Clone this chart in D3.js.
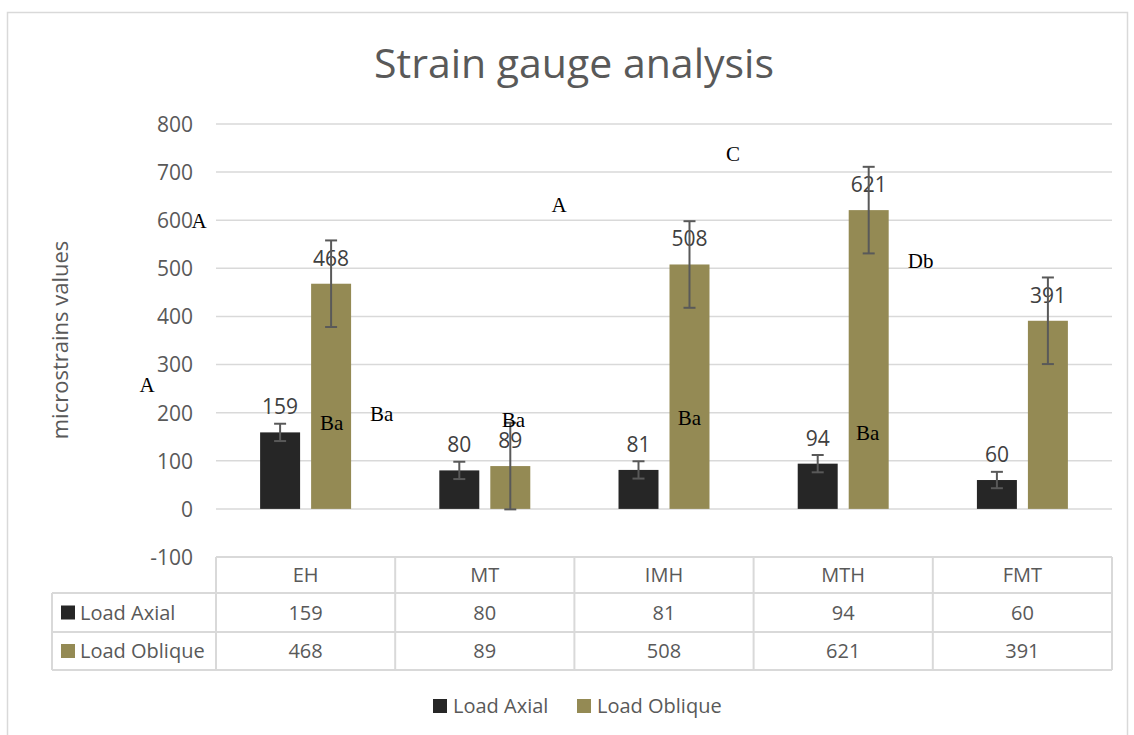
<!DOCTYPE html>
<html>
<head>
<meta charset="utf-8">
<script src="https://cdn.jsdelivr.net/npm/d3@7"></script>
<style>
    body { margin: 0; background: #fff; }
    svg text { font-family: 'Open Sans', 'DejaVu Sans', sans-serif; }
    svg text.letter { font-family: 'Liberation Serif', 'Times New Roman', serif; }
</style>
</head>
<body>
<svg id="chart" width="1134" height="735"></svg>
<script>
var categories = ['EH', 'MT', 'IMH', 'MTH', 'FMT'];
var seriesNames = ['Load Axial', 'Load Oblique'];
var loadAxial = [159, 80, 81, 94, 60];
var loadOblique = [468, 89, 508, 621, 391];
var axialErr = [18, 18, 18, 18, 17];
var obliqueErr = [90, 90, 90, 90, 90];
var yTicks = [-100, 0, 100, 200, 300, 400, 500, 600, 700, 800];

// loose letters pasted over the chart: category, position across the band, value
var letterText = ['A', 'A', 'Ba', 'Ba', 'Ba', 'A', 'Ba', 'C', 'Ba', 'Db'];
var letterCat = ['EH', 'EH', 'EH', 'EH', 'MT', 'MT', 'IMH', 'IMH', 'MTH', 'MTH'];
var letterFrac = [-0.095, -0.385, 0.645, 0.924, 0.66, 0.914, 0.642, 0.885, 0.636, 0.932];
var letterVal = [584, 243, 164, 183, 170, 617, 174, 723, 143, 501];

var colors = { axial: '#262626', oblique: '#948a54', grid: '#d9d9d9', text: '#595959', err: '#595959' };

var chart = {
    left: 216,
    right: 1112,
    top: 124,
    bottom: 557,
    rowH: [36, 39, 38],
    labelLeft: 52,

    draw: function () {
        var svg = d3.select('#chart');

        // outer frame
        svg.append('rect').attr('x', 7.5).attr('y', 12.5).attr('width', 1120).attr('height', 740)
            .attr('fill', '#fff').attr('stroke', colors.grid).attr('stroke-width', 1.5);

        svg.append('text').text('Strain gauge analysis')
            .attr('x', 574).attr('y', 78).attr('text-anchor', 'middle')
            .attr('font-size', '41px').attr('fill', colors.text);

        var x = d3.scaleBand().domain(categories).range([chart.left, chart.right]);
        var xs = d3.scaleBand().domain(['axial', 'oblique']).range([0, x.bandwidth()])
            .paddingInner(0.216).paddingOuter(0.865);
        var y = d3.scaleLinear().domain([-100, 800]).range([chart.bottom, chart.top]);

        // gridlines
        svg.append('g').selectAll('line').data(yTicks.filter(function (d) { return d > -100; })).enter()
            .append('line')
            .attr('x1', chart.left).attr('x2', chart.right)
            .attr('y1', function (d) { return y(d); }).attr('y2', function (d) { return y(d); })
            .attr('stroke', colors.grid).attr('stroke-width', 1.5);

        var yAxis = svg.append('g').attr('transform', 'translate(' + (chart.left - 23) + ',0)')
            .call(d3.axisLeft(y).tickValues(yTicks).tickSize(0).tickPadding(0)
                .tickFormat(function (d) { return String(d); }));
        yAxis.select('.domain').remove();
        yAxis.selectAll('text').attr('font-size', '21px').attr('fill', colors.text)
            .attr('font-family', null).attr('dy', '0.35em');

        svg.append('text').text('microstrains values')
            .attr('transform', 'translate(68,340) rotate(-90)').attr('text-anchor', 'middle')
            .attr('font-size', '22px').attr('fill', colors.text);

        var rows = [];
        categories.forEach(function (c, i) {
            rows.push({ cat: c, key: 'axial', v: loadAxial[i], e: axialErr[i] });
            rows.push({ cat: c, key: 'oblique', v: loadOblique[i], e: obliqueErr[i] });
        });

        // bars
        svg.append('g').selectAll('rect').data(rows).enter().append('rect')
            .attr('x', function (d) { return x(d.cat) + xs(d.key); })
            .attr('width', xs.bandwidth())
            .attr('y', function (d) { return y(d.v); })
            .attr('height', function (d) { return y(0) - y(d.v); })
            .attr('fill', function (d) { return colors[d.key]; });

        // value labels
        svg.append('g').selectAll('text').data(rows).enter().append('text')
            .text(function (d) { return d.v; })
            .attr('x', function (d) { return x(d.cat) + xs(d.key) + xs.bandwidth() / 2; })
            .attr('y', function (d) { return y(d.v) - 18; })
            .attr('text-anchor', 'middle').attr('font-size', '21px').attr('fill', '#404040');

        // error bars
        var eb = svg.append('g').selectAll('g').data(rows).enter().append('g')
            .attr('transform', function (d) { return 'translate(' + (x(d.cat) + xs(d.key) + xs.bandwidth() / 2) + ',0)'; })
            .attr('stroke', colors.err).attr('stroke-width', 2);
        eb.append('line').attr('x1', 0).attr('x2', 0)
            .attr('y1', function (d) { return y(d.v + d.e); }).attr('y2', function (d) { return y(d.v - d.e); });
        eb.append('line').attr('x1', -6).attr('x2', 6)
            .attr('y1', function (d) { return y(d.v + d.e); }).attr('y2', function (d) { return y(d.v + d.e); });
        eb.append('line').attr('x1', -6).attr('x2', 6)
            .attr('y1', function (d) { return y(d.v - d.e); }).attr('y2', function (d) { return y(d.v - d.e); });

        chart.drawTable(svg, x);

        // stray letters
        svg.append('g').selectAll('text').data(letterText).enter().append('text')
            .attr('class', 'letter')
            .text(function (d) { return d; })
            .attr('x', function (d, i) { return x(letterCat[i]) + letterFrac[i] * x.bandwidth(); })
            .attr('y', function (d, i) { return y(letterVal[i]); })
            .attr('text-anchor', 'middle')
            .attr('font-size', '21px').attr('fill', '#000');

        chart.drawLegend(svg);
    },

    drawTable: function (svg, x) {
        var t = svg.append('g').attr('stroke', colors.grid).attr('stroke-width', 2);
        var y0 = chart.bottom, y1 = y0 + chart.rowH[0], y2 = y1 + chart.rowH[1], y3 = y2 + chart.rowH[2];

        t.append('line').attr('x1', chart.left).attr('x2', chart.right).attr('y1', y0).attr('y2', y0);
        [y1, y2, y3].forEach(function (yy) {
            t.append('line').attr('x1', chart.labelLeft).attr('x2', chart.right).attr('y1', yy).attr('y2', yy);
        });
        t.append('line').attr('x1', chart.labelLeft).attr('x2', chart.labelLeft).attr('y1', y1).attr('y2', y3);
        categories.forEach(function (c) {
            t.append('line').attr('x1', x(c)).attr('x2', x(c)).attr('y1', y0).attr('y2', y3);
        });
        t.append('line').attr('x1', chart.right).attr('x2', chart.right).attr('y1', y0).attr('y2', y3);

        var mid = function (c) { return x(c) + x.bandwidth() / 2; };
        var cellText = function (txt, cx, cy, anchor) {
            svg.append('text').text(txt).attr('x', cx).attr('y', cy).attr('dy', '0.35em')
                .attr('text-anchor', anchor || 'middle').attr('font-size', '20px').attr('fill', colors.text);
        };
        categories.forEach(function (c, i) {
            cellText(c, mid(c), (y0 + y1) / 2);
            cellText(loadAxial[i], mid(c), (y1 + y2) / 2);
            cellText(loadOblique[i], mid(c), (y2 + y3) / 2);
        });

        svg.append('rect').attr('x', 61).attr('y', (y1 + y2) / 2 - 7).attr('width', 14).attr('height', 14).attr('fill', colors.axial);
        svg.append('rect').attr('x', 61).attr('y', (y2 + y3) / 2 - 7).attr('width', 14).attr('height', 14).attr('fill', colors.oblique);
        cellText(seriesNames[0], 80, (y1 + y2) / 2, 'start');
        cellText(seriesNames[1], 80, (y2 + y3) / 2, 'start');
    },

    drawLegend: function (svg) {
        var items = [
            { name: seriesNames[0], color: colors.axial, x: 433 },
            { name: seriesNames[1], color: colors.oblique, x: 577 }
        ];
        var g = svg.append('g').selectAll('g').data(items).enter().append('g')
            .attr('transform', function (d) { return 'translate(' + d.x + ',706)'; });
        g.append('rect').attr('x', 0).attr('y', -7).attr('width', 14).attr('height', 14)
            .attr('fill', function (d) { return d.color; });
        g.append('text').text(function (d) { return d.name; })
            .attr('x', 20).attr('dy', '0.35em').attr('font-size', '20px').attr('fill', colors.text);
    }
};

chart.draw();
</script>
</body>
</html>
